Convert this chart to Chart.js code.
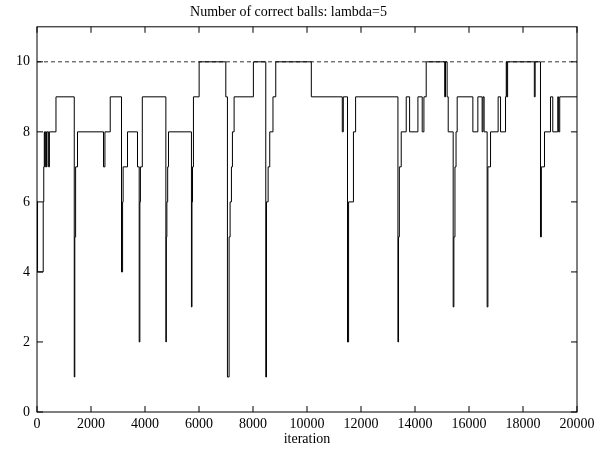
<!DOCTYPE html>
<html lang="en">
<head>
<meta charset="UTF-8">
<title>Number of correct balls</title>
<script src="https://cdn.jsdelivr.net/npm/chart.js"></script>
<style>
  body { margin: 0; background: #fff; }
</style>
</head>
<body>
<canvas id="myChart" width="608" height="451"></canvas>
<script>
// step changes: from iterations[i] on, the value is correct[i]
const iterations = [0, 20, 230, 250, 270, 290, 310, 350, 370, 430, 460, 703,
  1380, 1400, 1430, 1500, 2464, 2516, 2712, 3130, 3170, 3190, 3352, 3722, 3785,
  3810, 3830, 3900, 4773, 4790, 4810, 4840, 4870, 5720, 5740, 5760, 5794, 6005,
  6993, 7053, 7115, 7152, 7201, 7238, 7300, 8014, 8473, 8500, 8560, 8620, 8740,
  8843, 10160, 11307, 11344, 11500, 11540, 11720, 11800, 13368, 13390, 13420,
  13490, 13675, 13800, 14108, 14267, 14330, 14415, 15100, 15130, 15190, 15230,
  15414, 15440, 15480, 15520, 15562, 16143, 16328, 16487, 16520, 16560, 16672,
  16700, 16798, 17079, 17168, 17353, 17380, 17400, 17430, 18420, 18450, 18648,
  18680, 18796, 19018, 19103, 19288, 19320, 19360, 20000];
const correct = [6, 4, 6, 7, 8, 7, 8, 7, 8, 7, 8, 9,
  1, 5, 7, 8, 7, 8, 9, 4, 6, 7, 8, 7, 2,
  6, 7, 9, 2, 5, 6, 7, 8, 3, 6, 7, 9, 10,
  9, 1, 5, 6, 7, 8, 9, 10, 1, 6, 7, 8, 9,
  10, 9, 8, 9, 2, 6, 8, 9, 2, 5, 7,
  8, 9, 8, 9, 8, 9, 10, 9, 10, 9, 8,
  3, 5, 7, 8, 9, 8, 9, 8, 9, 8, 3,
  7, 8, 9, 8, 9, 10, 9, 10, 9, 10, 5,
  7, 8, 9, 8, 9, 8, 9, 9];
const allBalls = 10;
const xTickValues = [0, 2000, 4000, 6000, 8000, 10000, 12000, 14000, 16000, 18000, 20000];
const yTickValues = [0, 2, 4, 6, 8, 10];

const serif = { family: "'Liberation Serif', 'Times New Roman', serif", size: 14, weight: 'normal' };

// gnuplot style frame with inward ticks on all four sides
const frame = {
  id: 'frame',
  afterDatasetsDraw(chart) {
    const { ctx, chartArea: a, scales: { x, y } } = chart;
    ctx.save();
    ctx.strokeStyle = '#000';
    ctx.lineWidth = 1;
    ctx.beginPath();
    xTickValues.forEach(v => {
      const px = x.getPixelForValue(v);
      ctx.moveTo(px, a.bottom); ctx.lineTo(px, a.bottom - 6);
      ctx.moveTo(px, a.top); ctx.lineTo(px, a.top + 6);
    });
    yTickValues.forEach(v => {
      const py = y.getPixelForValue(v);
      ctx.moveTo(a.left, py); ctx.lineTo(a.left + 6, py);
      ctx.moveTo(a.right, py); ctx.lineTo(a.right - 6, py);
    });
    ctx.stroke();
    ctx.strokeRect(a.left, a.top, a.right - a.left, a.bottom - a.top);
    ctx.restore();
  }
};

new Chart(document.getElementById('myChart'), {
  type: 'line',
  data: {
    datasets: [{
      data: iterations.map((it, i) => ({ x: it, y: correct[i] })),
      stepped: 'before',
      borderColor: '#000',
      borderWidth: 1,
      pointRadius: 0,
      fill: false
    }, {
      data: [{ x: 0, y: allBalls }, { x: 20000, y: allBalls }],
      borderColor: '#333',
      borderWidth: 1,
      borderDash: [4, 3],
      pointRadius: 0,
      fill: false
    }]
  },
  options: {
    responsive: false,
    animation: false,
    layout: { padding: { left: 0, right: 31, top: 0, bottom: 0 } },
    plugins: {
      legend: { display: false },
      tooltip: { enabled: false },
      title: {
        display: true,
        text: 'Number of correct balls: lambda=5',
        color: '#000',
        font: serif,
        padding: { top: 4, bottom: 6 }
      }
    },
    scales: {
      x: {
        type: 'linear',
        min: 0,
        max: 20000,
        afterBuildTicks: s => { s.ticks = xTickValues.map(v => ({ value: v })); },
        afterFit: s => { s.height = 39; },
        grid: { display: false, drawTicks: false },
        border: { display: false },
        ticks: { color: '#000', font: serif, padding: 4, maxRotation: 0, autoSkip: false, callback: v => String(v) },
        title: { display: true, text: 'iteration', color: '#000', font: serif, padding: { top: 0, bottom: 3 } }
      },
      y: {
        type: 'linear',
        min: 0,
        max: 11,
        afterBuildTicks: s => { s.ticks = yTickValues.map(v => ({ value: v })); },
        afterFit: s => { s.width = 37; },
        grid: { display: false, drawTicks: false },
        border: { display: false },
        ticks: { color: '#000', font: serif, padding: 7, callback: v => String(v) }
      }
    }
  },
  plugins: [frame]
});
</script>
</body>
</html>
